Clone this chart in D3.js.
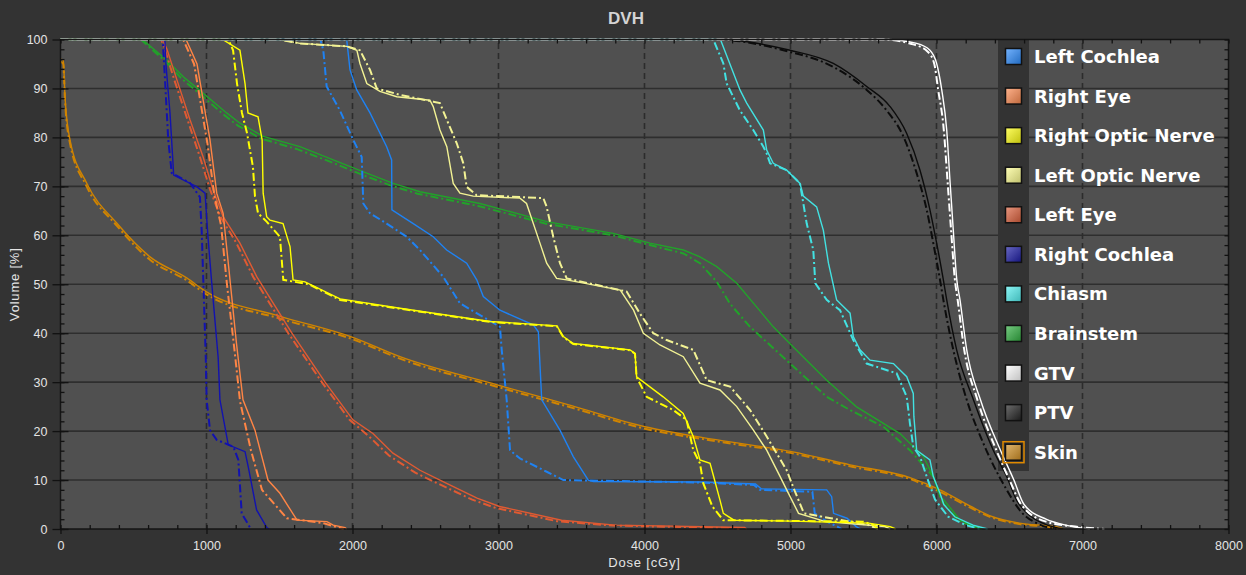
<!DOCTYPE html>
<html>
<head>
<meta charset="utf-8">
<script src="https://cdn.jsdelivr.net/npm/d3@7"></script>
<style>
  body { margin: 0; background: #333333; }
  svg { display: block; }
</style>
</head>
<body>
<div id="chart"></div>
<script>
// DVH curves, [dose cGy, volume %]; "A" = solid plan, "B" = dash-dot plan
const leftCochleaA = [[0,100],[1960,100],[1983,93.8],[2029,89.7],[2120,85],[2234,78.1],[2268,75.4],[2270,65.2],[2416,62.4],[2553,59.7],[2645,57],[2782,54.3],[2851,50.9],[2896,47.5],[3010,44.7],[3238,41.7],[3273,40.3],[3296,26.4],[3421,20.2],[3512,14.8],[3615,10],[3650,9.7],[4380,9.6],[4760,9.2],[4800,8.2],[5248,8],[5282,6.6],[5295,3.2],[5387,2.2],[5450,0.5],[5480,0]];
const leftCochleaB = [[0,100],[1780,100],[1800,97.8],[1823,90.4],[1914,85.5],[2005,79.5],[2063,76],[2074,66.5],[2120,64.5],[2234,62.4],[2371,59.7],[2462,57],[2622,51.5],[2736,46.1],[2896,43.3],[3010,41.3],[3022,36.6],[3056,26.4],[3079,16.1],[3147,14.4],[3330,11.7],[3444,10],[4380,9.5],[4750,9],[4790,8],[5150,7.6],[5166,3.2],[5250,1.5],[5320,0.5],[5350,0]];

const rightEyeA = [[0,100],[860,100],[935,95],[977,87.6],[1024,79.5],[1070,68.6],[1114,64.5],[1161,50.9],[1205,38],[1250,26.4],[1332,20.2],[1421,10],[1503,7.3],[1620,1.8],[1825,1.5],[1868,0.8],[1949,0.3],[1960,0]];
const rightEyeB = [[0,100],[840,100],[915,95],[960,87],[1005,79],[1055,68],[1100,62],[1140,50],[1190,37],[1230,26],[1305,16],[1380,8],[1550,2.2],[1800,1.2],[1900,0.3],[1940,0]];

const rightOpticA = [[0,100],[1110,100],[1229,97.8],[1264,91],[1284,85],[1353,84.2],[1381,79.5],[1388,68.6],[1412,63.8],[1435,63.1],[1524,62.4],[1572,57.7],[1593,50.9],[1675,50.5],[1915,47],[2325,45.1],[2942,42.4],[3400,41.5],[3444,39.3],[3512,37.9],[3901,36.6],[3935,35.9],[3946,31.1],[4128,27],[4265,23.6],[4334,18.9],[4380,14.1],[4449,13.4],[4480,10],[4517,5.9],[4540,3.2],[4613,1.8],[5000,1.6],[5535,1.2],[5683,0.5],[5720,0]];
const rightOpticB = [[0,100],[1150,100],[1182,97.8],[1209,91],[1243,85],[1278,80.8],[1318,74],[1332,68],[1353,64.5],[1412,62.8],[1503,59.7],[1526,50.9],[1700,50],[1915,46.8],[2325,45],[2942,42.3],[3400,41.4],[3444,39.2],[3512,37.8],[3901,36.5],[3935,35.8],[3946,31],[4015,27],[4197,24.3],[4288,22.3],[4334,16.1],[4380,13.4],[4403,9.3],[4465,4.6],[4539,1.8],[5498,1.5],[5572,0.8],[5600,0]];

const leftOpticA = [[0,100],[1500,100],[1640,99.2],[1961,98.6],[2030,97.8],[2051,95.1],[2098,91],[2188,89.4],[2303,88.3],[2530,87.6],[2553,86.3],[2599,81.5],[2646,78.1],[2690,70.6],[2736,68.6],[2827,68],[3147,67.6],[3192,66.5],[3284,58.4],[3330,54.3],[3398,51.2],[3467,50.9],[3834,48.8],[3925,44.7],[3992,40],[4106,37.6],[4266,35.2],[4380,29.8],[4517,28.4],[4632,25],[4746,20.2],[4837,16.1],[4929,10.7],[4974,8],[5055,3.2],[5240,1.5],[5646,0.5],[5683,0]];
const leftOpticB = [[0,100],[1500,100],[1640,99.2],[1961,98.6],[2051,97.8],[2120,93.8],[2166,90],[2325,88.7],[2553,87.3],[2599,87],[2646,83.6],[2714,78.8],[2759,74.7],[2782,69.9],[2850,68.2],[3307,67.6],[3330,65.8],[3375,59.7],[3421,54.3],[3467,51.2],[3878,48.5],[3969,44],[4060,40],[4152,38.6],[4334,36.6],[4426,30.4],[4586,29.1],[4723,24.3],[4837,18.9],[4974,12],[5018,8.6],[5092,3.2],[5277,2.2],[5535,0.8],[5600,0]];

const leftEyeA = [[0,100],[700,100],[729,98],[798,91.7],[887,83.6],[977,76],[1045,69.3],[1114,63.8],[1229,58.4],[1345,51.5],[1585,40],[1812,30],[2003,22.3],[2140,19.5],[2277,15.5],[2462,12],[2599,10],[2853,6.3],[3007,4.6],[3432,1.8],[3800,0.8],[4686,0.3],[4700,0]];
const leftEyeB = [[0,100],[690,100],[715,98],[780,91.7],[870,83.6],[955,76],[1025,69.3],[1095,63.8],[1205,58.4],[1320,51.5],[1560,40],[1790,30],[1980,22.3],[2110,19],[2250,15],[2430,11.5],[2570,9.5],[2820,6],[2980,4.3],[3400,1.6],[3780,0.7],[4600,0.2],[4650,0]];

const rightCochleaA = [[0,100],[715,100],[722,95],[750,85],[770,75],[775,72.3],[935,69.9],[990,68.6],[1010,59.7],[1034,50.9],[1080,35],[1092,26.4],[1149,17.2],[1264,15.8],[1286,12.7],[1343,3.9],[1413,0.3],[1430,0]];
const rightCochleaB = [[0,100],[700,100],[716,91.7],[738,79.5],[762,72.7],[887,70.7],[955,67.8],[967,61],[978,50.9],[995,35],[1001,26.4],[1024,20.2],[1070,18.2],[1184,16.8],[1218,14.1],[1241,3.2],[1298,0.3],[1310,0]];

const chiasmA = [[0,100],[4520,100],[4654,89.7],[4700,87],[4814,81.5],[4837,77.4],[4882,74.7],[4974,73.3],[5065,70.6],[5088,68],[5179,65.8],[5225,61],[5260,54.3],[5316,46.8],[5408,44.1],[5430,39.3],[5476,36.6],[5545,34.5],[5705,33.8],[5796,31.1],[5841,27.7],[5845,23],[5864,16.1],[5955,14.1],[5978,10.7],[6024,7.3],[6050,5],[6125,2.5],[6250,0.8],[6350,0]];
const chiasmB = [[0,100],[4471,100],[4540,95.1],[4563,91],[4654,85.5],[4745,81.5],[4814,78.1],[4837,76.7],[4860,74.7],[4974,73.3],[5065,70.6],[5088,66.5],[5111,62.4],[5156,57],[5170,50.2],[5248,46.8],[5339,44.7],[5430,38.6],[5522,33.8],[5727,31.8],[5796,27],[5818,21.6],[5841,16.8],[5887,14.8],[5933,10.7],[5990,6],[6080,2.5],[6200,0.8],[6300,0]];

const brainstemA = [[0,100],[560,100],[727,95.8],[841,92.4],[978,89],[1138,85],[1229,82.9],[1389,80.2],[1640,78.1],[1868,75.4],[2097,72.7],[2279,70.6],[2462,68.9],[2873,66.5],[3330,62.8],[3786,60.4],[4038,58.4],[4266,57],[4380,55.6],[4495,53.6],[4632,50.2],[4882,41.3],[5019,37.2],[5248,30.4],[5450,25],[5750,19.5],[5910,14.8],[5978,10.7],[6024,6.6],[6052,5.9],[6162,1.8],[6310,0]];
const brainstemB = [[0,100],[550,100],[720,95.5],[830,92],[965,88.6],[1120,84.6],[1215,82.4],[1370,79.8],[1620,77.6],[1850,75],[2080,72.2],[2260,70.2],[2445,68.5],[2860,66],[3320,62.4],[3786,60],[4038,58],[4266,56.3],[4380,54.3],[4495,50.5],[4586,46],[4723,41.3],[5019,33.2],[5248,27],[5408,24.3],[5636,20.9],[5818,16.1],[5978,10.7],[6040,5.5],[6150,1.8],[6300,0]];

const gtvA = [[0,100],[5650,100],[5864,99.2],[5955,97.8],[6001,95.1],[6036,89.7],[6070,81.5],[6092,71.3],[6115,61],[6138,51.2],[6161,46.8],[6207,36.6],[6301,26.4],[6438,16.1],[6530,10],[6600,5],[6750,2],[6900,0.7],[7050,0]];
const gtvB = [[0,100],[5620,100],[5840,99],[5940,97.5],[5985,95],[6010,90],[6050,81.5],[6075,71.3],[6100,61],[6125,51.2],[6145,46.8],[6190,36.6],[6280,26.4],[6410,16.1],[6500,10],[6580,5],[6750,1.5],[6950,0.5],[7150,0]];

const ptvA = [[0,100],[4500,100],[4997,97.8],[5293,95.1],[5522,90.4],[5682,86.3],[5796,80.8],[5887,73.3],[5955,65.2],[6001,58.4],[6047,50.9],[6070,46.8],[6138,36.6],[6253,26.4],[6389,16.1],[6481,10.7],[6549,5.9],[6650,2.5],[6760,0.8],[6870,0]];
const ptvB = [[0,100],[4480,100],[4951,97.8],[5293,94.4],[5522,89.7],[5659,85.5],[5773,80.2],[5864,72.7],[5933,65.2],[5978,58.4],[6024,50.9],[6047,46.8],[6115,36.6],[6207,26.4],[6321,17.5],[6481,8],[6580,3.5],[6700,1],[6820,0]];

const skinA = [[0,96],[19,95.8],[31,88.3],[65,79.5],[179,70.7],[385,62.5],[613,55.6],[864,51.3],[997,48.5],[1500,43.5],[1997,39.2],[2325,35.2],[2997,29.4],[3500,25.2],[4003,20.9],[4500,18.2],[5008,15.8],[5408,13.1],[5818,10.5],[6024,8],[6236,4.6],[6384,2.5],[6568,1.2],[6826,0.4],[6870,0]];
const skinB = [[0,95.5],[19,95],[31,87.5],[65,78.8],[179,70],[385,62],[613,55],[864,50.8],[997,48],[1500,43],[1997,38.8],[2325,34.8],[2997,29],[3500,24.8],[4003,20.5],[4500,17.9],[5008,15.5],[5408,12.8],[5818,10.2],[6024,7.6],[6236,4.3],[6384,2.3],[6568,1],[6800,0.3],[6850,0]];

// legend order
const structureNames = ["Left Cochlea", "Right Eye", "Right Optic Nerve", "Left Optic Nerve", "Left Eye",
                        "Right Cochlea", "Chiasm", "Brainstem", "GTV", "PTV", "Skin"];
const solidCurves = [leftCochleaA, rightEyeA, rightOpticA, leftOpticA, leftEyeA, rightCochleaA, chiasmA, brainstemA, gtvA, ptvA, skinA];
const dashCurves  = [leftCochleaB, rightEyeB, rightOpticB, leftOpticB, leftEyeB, rightCochleaB, chiasmB, brainstemB, gtvB, ptvB, skinB];

const lineColors   = ["#1f82f2", "#ff8545", "#ffff00", "#f2f294", "#e05a32", "#1212b0", "#42e2e2", "#22a22a", "#ffffff", "#0c0c0c", "#d08400"];
const swatchColors = ["#2a8cff", "#ff8a50", "#ffff10", "#ffff90", "#de603c", "#1a1aa6", "#52f2f2", "#30b040", "#ffffff", "#222222", "#d39022"];
// smooth-shaped curves (strictly increasing dose) get a monotone spline
const smoothCurves = new Set(["GTV", "PTV", "Skin"]);

const xTicks = d3.range(0, 8001, 1000);
const yTicks = d3.range(0, 101, 10);

const width = 1246, height = 575;
const x = d3.scaleLinear().domain([0, 8000]).range([60.5, 1228.5]);
const y = d3.scaleLinear().domain([0, 100]).range([529, 39.5]);

const svg = d3.select("#chart").append("svg")
    .attr("width", width)
    .attr("height", height)
    .style("font-family", "'Liberation Sans', Arial, sans-serif");

svg.append("rect").attr("width", width).attr("height", height).attr("fill", "#333333");

// title
svg.append("text")
    .attr("x", 626).attr("y", 24)
    .attr("text-anchor", "middle")
    .attr("font-size", 17).attr("font-weight", "bold")
    .attr("fill", "#d4d4d4")
    .text("DVH");

// plot area
svg.append("rect")
    .attr("x", x(0)).attr("y", y(100))
    .attr("width", x(8000) - x(0)).attr("height", y(0) - y(100))
    .attr("fill", "#505050");

// grid
svg.append("g").selectAll("line")
    .data(yTicks.filter(d => d > 0 && d < 100))
    .join("line")
    .attr("x1", x(0)).attr("x2", x(8000))
    .attr("y1", d => y(d)).attr("y2", d => y(d))
    .attr("stroke", "#2e2e2e").attr("stroke-width", 1.6);

svg.append("g").selectAll("line")
    .data(xTicks.filter(d => d > 0 && d < 8000))
    .join("line")
    .attr("x1", d => x(d)).attr("x2", d => x(d))
    .attr("y1", y(0)).attr("y2", y(100))
    .attr("stroke", "#2c2c2c").attr("stroke-width", 1.6)
    .attr("stroke-dasharray", "6,4");

// legend background column
const legendX = 998, legendY0 = 56, legendStep = 39.57;
svg.append("rect")
    .attr("x", legendX).attr("y", y(100))
    .attr("width", 31).attr("height", 471 - y(100))
    .attr("fill", "#333333");

// curves
const line = d3.line().x(d => x(d[0])).y(d => y(d[1]));
const smoothLine = d3.line().x(d => x(d[0])).y(d => y(d[1])).curve(d3.curveMonotoneX);
const curves = svg.append("g").attr("fill", "none");
const drawOrder = [10, 7, 4, 1, 5, 0, 3, 2, 6, 9, 8];
drawOrder.forEach(i => {
    const gen = smoothCurves.has(structureNames[i]) ? smoothLine : line;
    curves.append("path")
        .attr("d", gen(dashCurves[i]))
        .attr("stroke", lineColors[i])
        .attr("stroke-width", 2)
        .attr("stroke-dasharray", "8,3,2,3");
    curves.append("path")
        .attr("d", gen(solidCurves[i]))
        .attr("stroke", lineColors[i])
        .attr("stroke-width", 1.4);
});

// frame
svg.append("rect")
    .attr("x", x(0)).attr("y", y(100))
    .attr("width", x(8000) - x(0)).attr("height", y(0) - y(100))
    .attr("fill", "none").attr("stroke", "#151515").attr("stroke-width", 1.5);

// axes
const minorX = d3.range(0, 8001, 200);
const minorY = d3.range(0, 101, 2);
function styleAxis(g) {
    g.select(".domain").remove();
    g.selectAll("line").attr("stroke", "#111").attr("stroke-width", 1.3);
    g.selectAll("text").attr("fill", "#e4e4e4").attr("font-size", 12.5);
}

svg.append("g").attr("transform", `translate(0,${y(0)})`)
    .call(d3.axisBottom(x).tickValues(xTicks).tickSize(5).tickPadding(7).tickFormat(d3.format("d")))
    .call(styleAxis);
svg.append("g").attr("transform", `translate(0,${y(0)})`)
    .call(d3.axisTop(x).tickValues(minorX).tickSize(4).tickFormat(""))
    .call(styleAxis);
svg.append("g").attr("transform", `translate(0,${y(100)})`)
    .call(d3.axisBottom(x).tickValues(minorX).tickSize(4).tickFormat(""))
    .call(styleAxis);

svg.append("g").attr("transform", `translate(${x(0)},0)`)
    .call(d3.axisLeft(y).tickValues(yTicks).tickSize(8).tickPadding(5).tickFormat(d3.format("d")))
    .call(styleAxis);
svg.append("g").attr("transform", `translate(${x(0)},0)`)
    .call(d3.axisRight(y).tickValues(minorY).tickSize(4).tickFormat(""))
    .call(styleAxis);
svg.append("g").attr("transform", `translate(${x(0)},0)`)
    .call(d3.axisRight(y).tickValues(yTicks).tickSize(8).tickFormat(""))
    .call(styleAxis);
svg.append("g").attr("transform", `translate(${x(8000)},0)`)
    .call(d3.axisLeft(y).tickValues(minorY).tickSize(4).tickFormat(""))
    .call(styleAxis);

// axis titles
svg.append("text")
    .attr("x", (x(0) + x(8000)) / 2).attr("y", 567)
    .attr("text-anchor", "middle")
    .attr("font-size", 13).attr("letter-spacing", 0.8)
    .attr("fill", "#e4e4e4")
    .text("Dose [cGy]");
svg.append("text")
    .attr("transform", `translate(19,${(y(0) + y(100)) / 2}) rotate(-90)`)
    .attr("text-anchor", "middle")
    .attr("font-size", 13).attr("letter-spacing", 0.8)
    .attr("fill", "#e4e4e4")
    .text("Volume [%]");

// legend
const defs = svg.append("defs");
swatchColors.forEach((c, i) => {
    const g = defs.append("linearGradient").attr("id", "sw" + i)
        .attr("x1", 0).attr("y1", 0).attr("x2", 1).attr("y2", 1);
    g.append("stop").attr("offset", 0).attr("stop-color", d3.interpolateRgb(c, "#ffffff")(0.35));
    g.append("stop").attr("offset", 1).attr("stop-color", d3.interpolateRgb(c, "#000000")(0.25));
});

const legend = svg.append("g");
structureNames.forEach((name, i) => {
    const cy = legendY0 + i * legendStep;
    if (name === "Skin") {
        legend.append("rect")
            .attr("x", 1003).attr("y", cy - 10).attr("width", 21).attr("height", 21)
            .attr("fill", "none").attr("stroke", "#e08a00").attr("stroke-width", 1.5);
    }
    legend.append("rect")
        .attr("x", 1005.5).attr("y", cy - 7.5).attr("width", 16).attr("height", 16)
        .attr("fill", `url(#sw${i})`)
        .attr("stroke", "#111").attr("stroke-width", 1.5);
    legend.append("text")
        .attr("x", 1034).attr("y", cy + 7)
        .attr("font-family", "'DejaVu Sans', sans-serif")
        .attr("font-weight", "bold").attr("font-size", 18)
        .attr("fill", "#ffffff")
        .text(name);
});
</script>
</body>
</html>
